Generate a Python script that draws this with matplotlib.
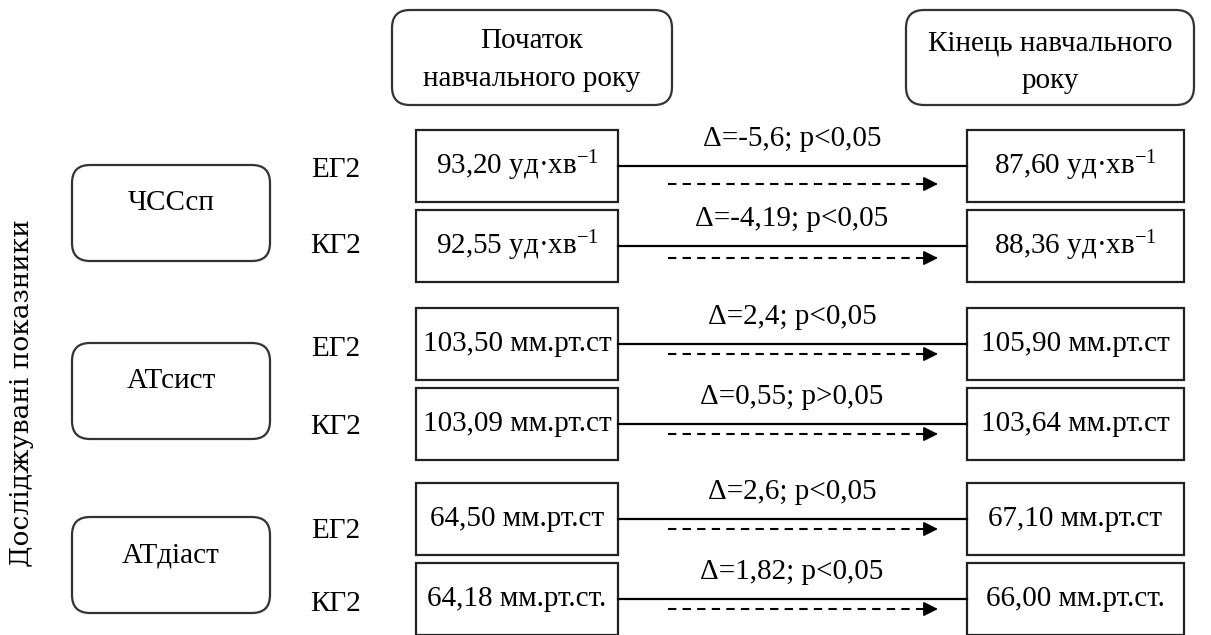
import matplotlib
matplotlib.use('Agg')
import matplotlib.pyplot as plt
from matplotlib.patches import FancyBboxPatch, Rectangle

plt.rcParams['font.family'] = ['Liberation Serif', 'DejaVu Serif']
plt.rcParams['mathtext.fontset'] = 'custom'
plt.rcParams['mathtext.rm'] = 'Liberation Serif'
plt.rcParams['mathtext.it'] = 'Liberation Serif'

# data
periods = ['Початок\nнавчального року', 'Кінець навчального\nроку']
indicators = ['ЧССсп', 'АТсист', 'АТдіаст']
groups = ['ЕГ2', 'КГ2']
start_vals = [93.20, 92.55, 103.50, 103.09, 64.50, 64.18]
end_vals = [87.60, 88.36, 105.90, 103.64, 67.10, 66.00]
units = ['уд·хв$^{-1}$', 'уд·хв$^{-1}$', 'мм.рт.ст', 'мм.рт.ст', 'мм.рт.ст', 'мм.рт.ст.']
deltas = [-5.6, -4.19, 2.4, 0.55, 2.6, 1.82]
p_signs = ['<', '<', '<', '>', '<', '<']
y_title = 'Досліджувані показники'

FS = 21
W, H = 1211, 635

fig = plt.figure(figsize=(W / 100, H / 100), dpi=100)
ax = fig.add_axes([0, 0, 1, 1])
ax.set_xlim(0, W)
ax.set_ylim(H, 0)
ax.axis('off')


def fmt(v):
    return ('%.2f' % v).replace('.', ',')


def rbox(x0, y0, w, h, text, ty=None):
    p = FancyBboxPatch((x0, y0), w, h, boxstyle='round,pad=0,rounding_size=18',
                       fc='white', ec='#333333', lw=1.6)
    ax.add_patch(p)
    if ty is None:
        ty = y0 + h / 2
    ax.text(x0 + w / 2, ty, text, ha='center', va='center', fontsize=FS,
            linespacing=1.6)


# header boxes
rbox(392, 10, 280, 95, periods[0], ty=60)
rbox(906, 10, 288, 95, periods[1], ty=62)

# indicator boxes (rounded) on the left
ind_y = [165, 343, 517]
for name, y0 in zip(indicators, ind_y):
    rbox(72, y0, 198, 96, name, ty=y0 + 38)

ax.text(22, 393, y_title, rotation=90, ha='center', va='center', fontsize=19,
        family='DejaVu Serif')

# rows: box top, solid line, dashed arrow, group label
row_top = [130, 210, 308, 388, 483, 563]
row_line = [166, 246, 344, 424, 519, 599]
row_dash = [184, 258, 354, 434, 529, 609]
label_y = [170, 246, 349, 427, 531, 604]
box_h = 72
lx0, lx1 = 416, 618
rx0, rx1 = 967, 1184

for i in range(6):
    top = row_top[i]
    ax.add_patch(Rectangle((lx0, top), lx1 - lx0, box_h, fc='white', ec='#222222', lw=1.6))
    ax.add_patch(Rectangle((rx0, top), rx1 - rx0, box_h, fc='white', ec='#222222', lw=1.6))
    yc = row_line[i]
    ax.text((lx0 + lx1) / 2, yc, fmt(start_vals[i]) + ' ' + units[i],
            ha='center', va='center', fontsize=FS)
    ax.text((rx0 + rx1) / 2, yc, fmt(end_vals[i]) + ' ' + units[i],
            ha='center', va='center', fontsize=FS)
    # solid connector
    ax.plot([lx1, rx0], [yc, yc], color='black', lw=1.6)
    # dashed arrow
    yd = row_dash[i]
    ax.plot([668, 925], [yd, yd], color='black', lw=1.5, dashes=(4, 3))
    ax.annotate('', xy=(938, yd), xytext=(922, yd),
                arrowprops=dict(arrowstyle='-|>', color='black', lw=1.2,
                                mutation_scale=22, shrinkA=0, shrinkB=0))
    d = str(deltas[i]).replace('.', ',')
    ax.text(792, top + 9, 'Δ=%s; p%s0,05' % (d, p_signs[i]),
            ha='center', va='center', fontsize=FS)
    # group label
    ax.text(336, label_y[i], groups[i % 2], ha='center', va='center', fontsize=FS)

fig.savefig('out.png', dpi=100, facecolor='white')
